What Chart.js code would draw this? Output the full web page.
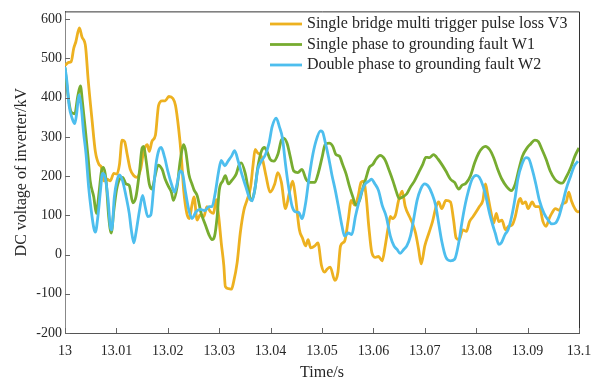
<!DOCTYPE html>
<html>
<head>
<meta charset="utf-8">
<script src="https://cdn.jsdelivr.net/npm/chart.js@4.4.0/dist/chart.umd.min.js"></script>
<style>
  html, body { margin: 0; padding: 0; background: #fff; }
  #wrap { width: 608px; height: 384px; position: relative; }
</style>
</head>
<body>
<div id="wrap"><canvas id="dcChart"></canvas></div>
<script>
// series labels
const seriesNames = [
  "Single bridge multi trigger pulse loss V3",
  "Single phase to grounding fault W1",
  "Double phase to grounding fault W2"
];

// axis ticks
const xTicks = [13, 13.01, 13.02, 13.03, 13.04, 13.05, 13.06, 13.07, 13.08, 13.09, 13.1];
const xTickLabels = ["13", "13.01", "13.02", "13.03", "13.04", "13.05", "13.06", "13.07", "13.08", "13.09", "13.1"];
const yTicks = [-200, -100, 0, 100, 200, 300, 400, 500, 600];

// V3 - single bridge multi trigger pulse loss (time in s, voltage in kV)
const v3Time = [
  13.0000, 13.0007, 13.0012, 13.0017, 13.0021, 13.0028, 13.0033, 13.0040, 13.0045, 13.0053,
  13.0059, 13.0066, 13.0071, 13.0075, 13.0082, 13.0088, 13.0095, 13.0101, 13.0106, 13.0111,
  13.0116, 13.0121, 13.0127, 13.0134, 13.0140, 13.0147, 13.0153, 13.0160, 13.0164, 13.0169,
  13.0176, 13.0182, 13.0189, 13.0195, 13.0202, 13.0210, 13.0215, 13.0221, 13.0226, 13.0231,
  13.0237, 13.0242, 13.0247, 13.0251, 13.0257, 13.0263, 13.0270, 13.0276, 13.0283, 13.0289,
  13.0294, 13.0299, 13.0304, 13.0309, 13.0312, 13.0318, 13.0324, 13.0328, 13.0335, 13.0341,
  13.0348, 13.0354, 13.0361, 13.0366, 13.0370, 13.0375, 13.0380, 13.0385, 13.0391, 13.0399,
  13.0408, 13.0414, 13.0421, 13.0429, 13.0436, 13.0443, 13.0448, 13.0456, 13.0462, 13.0468,
  13.0473, 13.0478, 13.0486, 13.0492, 13.0499, 13.0505, 13.0510, 13.0516, 13.0525, 13.0531,
  13.0536, 13.0544, 13.0551, 13.0557, 13.0564, 13.0570, 13.0576, 13.0581, 13.0586, 13.0591,
  13.0597, 13.0604, 13.0610, 13.0617, 13.0623, 13.0628, 13.0633, 13.0637, 13.0643, 13.0649,
  13.0656, 13.0662, 13.0670, 13.0676, 13.0682, 13.0688, 13.0693, 13.0700, 13.0708, 13.0715,
  13.0722, 13.0727, 13.0733, 13.0741, 13.0750, 13.0756, 13.0761, 13.0767, 13.0774, 13.0781,
  13.0787, 13.0794, 13.0800, 13.0806, 13.0813, 13.0818, 13.0822, 13.0828, 13.0834, 13.0839,
  13.0844, 13.0850, 13.0857, 13.0863, 13.0870, 13.0876, 13.0883, 13.0886, 13.0890, 13.0896,
  13.0901, 13.0909, 13.0915, 13.0923, 13.0930, 13.0936, 13.0942, 13.0947, 13.0954, 13.0962,
  13.0968, 13.0975, 13.0980, 13.0985, 13.0992, 13.0997, 13.1000
];
const v3Values = [
  482, 490, 492, 526, 542, 578, 555, 530, 447, 338,
  263, 230, 222, 188, 192, 188, 207, 205, 230, 292,
  288, 255, 217, 201, 197, 217, 263, 280, 263, 288,
  305, 380, 392, 392, 403, 398, 380, 322, 255, 163,
  105, 92, 126, 147, 88, 101, 97, 122, 109, 105,
  140, 97, 30, -28, -82, -87, -88, -70, -20, 55,
  113, 138, 172, 230, 268, 259, 255, 238, 201, 159,
  180, 209, 184, 117, 155, 187, 151, 63, 42, 22,
  38, 17, 22, 30, -28, -45, -37, -32, -66, -45,
  22, 34, 88, 138, 126, 147, 184, 187, 147, 72,
  5, -7, -5, -16, 22, 63, 97, 92, 101, 138,
  162, 122, 97, 80, 55, 13, -24, 22, 55, 84,
  122, 134, 117, 138, 134, 88, 42, 38, 63, 59,
  84, 97, 109, 122, 138, 180, 155, 113, 80, 105,
  84, 88, 63, 72, 76, 97, 138, 143, 130, 134,
  117, 134, 122, 122, 84, 72, 92, 105, 117, 113,
  130, 134, 159, 138, 117, 109, 110
];

// W1 - single phase to grounding fault
const w1Time = [
  13.0000, 13.0006, 13.0012, 13.0019, 13.0025, 13.0030, 13.0034, 13.0040, 13.0045, 13.0049,
  13.0056, 13.0061, 13.0066, 13.0071, 13.0075, 13.0080, 13.0085, 13.0090, 13.0095, 13.0100,
  13.0106, 13.0112, 13.0119, 13.0125, 13.0132, 13.0138, 13.0145, 13.0150, 13.0153, 13.0158,
  13.0164, 13.0169, 13.0176, 13.0181, 13.0189, 13.0195, 13.0202, 13.0207, 13.0211, 13.0218,
  13.0224, 13.0231, 13.0235, 13.0241, 13.0247, 13.0251, 13.0257, 13.0265, 13.0273, 13.0280,
  13.0286, 13.0291, 13.0296, 13.0300, 13.0307, 13.0312, 13.0318, 13.0325, 13.0333, 13.0338,
  13.0343, 13.0351, 13.0357, 13.0362, 13.0369, 13.0375, 13.0382, 13.0388, 13.0393, 13.0399,
  13.0406, 13.0414, 13.0421, 13.0425, 13.0432, 13.0438, 13.0445, 13.0453, 13.0461, 13.0469,
  13.0477, 13.0486, 13.0493, 13.0500, 13.0506, 13.0514, 13.0521, 13.0527, 13.0534, 13.0540,
  13.0547, 13.0553, 13.0560, 13.0566, 13.0573, 13.0579, 13.0586, 13.0592, 13.0599, 13.0605,
  13.0613, 13.0622, 13.0630, 13.0638, 13.0644, 13.0650, 13.0657, 13.0665, 13.0672, 13.0680,
  13.0688, 13.0696, 13.0702, 13.0709, 13.0717, 13.0726, 13.0733, 13.0741, 13.0750, 13.0758,
  13.0766, 13.0772, 13.0780, 13.0789, 13.0797, 13.0805, 13.0813, 13.0818, 13.0826, 13.0834,
  13.0842, 13.0850, 13.0860, 13.0868, 13.0876, 13.0883, 13.0890, 13.0899, 13.0906, 13.0914,
  13.0921, 13.0928, 13.0936, 13.0944, 13.0953, 13.0961, 13.0967, 13.0975, 13.0984, 13.0992,
  13.1000
];
const w1Values = [
  476, 405, 363, 359, 405, 430, 388, 313, 247, 188,
  147, 105, 155, 213, 222, 188, 97, 55, 113, 163,
  192, 197, 180, 176, 132, 147, 213, 272, 276, 238,
  180, 167, 205, 228, 217, 192, 172, 159, 138, 172,
  238, 280, 263, 205, 180, 165, 151, 105, 76, 51,
  38, 47, 97, 163, 188, 201, 180, 190, 205, 226,
  234, 205, 163, 138, 163, 222, 263, 273, 263, 243,
  238, 255, 292, 297, 284, 251, 213, 209, 217, 192,
  184, 184, 209, 247, 280, 284, 276, 255, 251, 230,
  205, 176, 147, 126, 138, 167, 197, 222, 230, 243,
  253, 243, 217, 188, 163, 143, 147, 155, 172, 188,
  209, 230, 248, 247, 255, 243, 230, 213, 192, 184,
  167, 176, 182, 201, 234, 259, 273, 276, 268, 247,
  217, 192, 172, 163, 180, 217, 251, 272, 282, 292,
  288, 268, 243, 213, 192, 184, 182, 197, 222, 251,
  272
];

// W2 - double phase to grounding fault
const w2Time = [
  13.0000, 13.0004, 13.0008, 13.0014, 13.0019, 13.0023, 13.0027, 13.0032, 13.0036, 13.0041,
  13.0046, 13.0051, 13.0056, 13.0059, 13.0064, 13.0069, 13.0073, 13.0078, 13.0084, 13.0088,
  13.0091, 13.0096, 13.0101, 13.0106, 13.0112, 13.0119, 13.0125, 13.0129, 13.0134, 13.0138,
  13.0145, 13.0151, 13.0156, 13.0161, 13.0167, 13.0172, 13.0177, 13.0183, 13.0187, 13.0194,
  13.0200, 13.0208, 13.0213, 13.0218, 13.0224, 13.0229, 13.0234, 13.0241, 13.0247, 13.0255,
  13.0263, 13.0272, 13.0280, 13.0286, 13.0292, 13.0299, 13.0304, 13.0311, 13.0317, 13.0324,
  13.0330, 13.0337, 13.0344, 13.0352, 13.0359, 13.0364, 13.0370, 13.0375, 13.0382, 13.0390,
  13.0397, 13.0403, 13.0411, 13.0417, 13.0423, 13.0429, 13.0435, 13.0442, 13.0448, 13.0455,
  13.0461, 13.0468, 13.0474, 13.0481, 13.0488, 13.0497, 13.0501, 13.0506, 13.0513, 13.0519,
  13.0526, 13.0532, 13.0539, 13.0544, 13.0551, 13.0558, 13.0565, 13.0571, 13.0578, 13.0584,
  13.0591, 13.0596, 13.0603, 13.0610, 13.0617, 13.0625, 13.0633, 13.0640, 13.0646, 13.0652,
  13.0659, 13.0665, 13.0672, 13.0678, 13.0685, 13.0692, 13.0700, 13.0708, 13.0714, 13.0721,
  13.0727, 13.0733, 13.0741, 13.0750, 13.0758, 13.0766, 13.0772, 13.0779, 13.0785, 13.0792,
  13.0800, 13.0806, 13.0813, 13.0819, 13.0826, 13.0832, 13.0837, 13.0844, 13.0849, 13.0856,
  13.0862, 13.0869, 13.0876, 13.0881, 13.0889, 13.0897, 13.0902, 13.0909, 13.0916, 13.0923,
  13.0932, 13.0940, 13.0947, 13.0954, 13.0961, 13.0968, 13.0975, 13.0984, 13.0991, 13.0998
];
const w2Values = [
  478, 438, 380, 347, 334, 363, 407, 372, 313, 255,
  172, 113, 68, 57, 97, 163, 207, 197, 138, 72,
  63, 147, 188, 203, 188, 147, 105, 63, 30, 55,
  113, 151, 122, 97, 101, 163, 230, 268, 273, 247,
  213, 176, 159, 180, 213, 205, 163, 113, 92, 109,
  115, 112, 122, 122, 155, 213, 240, 226, 238, 251,
  265, 238, 205, 172, 143, 137, 172, 217, 238, 255,
  284, 326, 348, 326, 297, 230, 172, 122, 109, 107,
  92, 130, 188, 247, 288, 315, 313, 288, 247, 205,
  163, 122, 72, 47, 55, 51, 97, 130, 163, 180,
  187, 192, 180, 163, 126, 97, 47, 22, 13, 3,
  13, 22, 47, 88, 138, 167, 180, 172, 155, 126,
  80, 34, -7, -16, -12, 30, 80, 130, 163, 192,
  202, 197, 176, 147, 105, 76, 55, 26, 30, 51,
  63, 97, 147, 192, 230, 247, 245, 217, 180, 138,
  105, 88, 78, 80, 97, 130, 167, 201, 226, 238
];

const colors = ["#EDB120", "#77AC30", "#4DBEEE"];
const textColor = "#262626";
const serif = "'Liberation Serif', 'Times New Roman', serif";

function toPoints(times, values) {
  return times.map((t, i) => ({ x: t, y: values[i] }));
}

// ========= FRAME + INWARD TICKS + LEGEND ==========
const framePlugin = {
  id: "frame",
  afterDatasetsDraw(chart) {
    const { ctx, chartArea: a, scales } = chart;
    ctx.save();
    // top and right border
    ctx.strokeStyle = "#333";
    ctx.lineWidth = 1;
    ctx.beginPath();
    ctx.moveTo(a.left, a.top + 0.5);
    ctx.lineTo(a.right + 0.5, a.top + 0.5);
    ctx.lineTo(a.right + 0.5, a.bottom);
    ctx.stroke();

    // ticks pointing into the plot
    ctx.strokeStyle = "#666";
    ctx.beginPath();
    yTicks.forEach((v) => {
      const y = Math.round(scales.y.getPixelForValue(v)) + 0.5;
      ctx.moveTo(a.left, y);
      ctx.lineTo(a.left + 5, y);
    });
    xTicks.forEach((v) => {
      const x = Math.round(scales.x.getPixelForValue(v)) + 0.5;
      ctx.moveTo(x, a.bottom);
      ctx.lineTo(x, a.bottom - 5);
    });
    ctx.stroke();

    // legend inside the top right corner
    const lx = 270, ly = 24, rowH = 20.5;
    ctx.font = "16px " + serif;
    ctx.textBaseline = "middle";
    ctx.fillStyle = textColor;
    chart.data.datasets.forEach((ds, i) => {
      const y = ly + i * rowH;
      ctx.strokeStyle = ds.borderColor;
      ctx.lineWidth = 2.8;
      ctx.beginPath();
      ctx.moveTo(lx, y);
      ctx.lineTo(lx + 32, y);
      ctx.stroke();
      ctx.fillText(ds.label, lx + 37, y);
    });
    ctx.restore();
  }
};

const datasets = [
  { label: seriesNames[0], data: toPoints(v3Time, v3Values), borderColor: colors[0], order: 2 },
  { label: seriesNames[1], data: toPoints(w1Time, w1Values), borderColor: colors[1], order: 1 },
  { label: seriesNames[2], data: toPoints(w2Time, w2Values), borderColor: colors[2], order: 0 }
].map((d) => ({
  ...d,
  borderWidth: 2.8,
  pointRadius: 0,
  fill: false,
  cubicInterpolationMode: "monotone"
}));

new Chart(document.getElementById("dcChart"), {
  type: "line",
  data: { datasets },
  options: {
    responsive: true,
    maintainAspectRatio: false,
    animation: false,
    devicePixelRatio: 1,
    layout: { padding: { top: 5, right: 29, left: 0, bottom: 0 } },
    plugins: {
      legend: { display: false },
      tooltip: { enabled: false }
    },
    scales: {
      x: {
        type: "linear",
        min: 13,
        max: 13.1,
        afterFit: (s) => { s.height = 51; },
        afterBuildTicks: (s) => { s.ticks = xTicks.map((v) => ({ value: v })); },
        grid: { display: false, drawTicks: false },
        border: { display: true, color: "#555", width: 1 },
        ticks: {
          autoSkip: false,
          maxRotation: 0,
          padding: 10,
          color: textColor,
          font: { family: serif, size: 14 },
          callback: (v) => xTickLabels[xTicks.findIndex((t) => Math.abs(t - v) < 1e-6)]
        },
        title: {
          display: true,
          text: "Time/s",
          color: textColor,
          font: { family: serif, size: 16 },
          padding: { top: 0, bottom: 2 }
        }
      },
      y: {
        min: -200,
        max: 620,
        afterFit: (s) => { s.width = 65; },
        afterBuildTicks: (s) => { s.ticks = yTicks.map((v) => ({ value: v })); },
        grid: { display: false, drawTicks: false },
        border: { display: true, color: "#888", width: 1 },
        ticks: {
          padding: 3,
          color: textColor,
          font: { family: serif, size: 14 }
        },
        title: {
          display: true,
          text: "DC voltage of inverter/kV",
          color: textColor,
          font: { family: serif, size: 16 },
          padding: { top: 12, bottom: 0 }
        }
      }
    }
  },
  plugins: [framePlugin]
});
</script>
</body>
</html>
